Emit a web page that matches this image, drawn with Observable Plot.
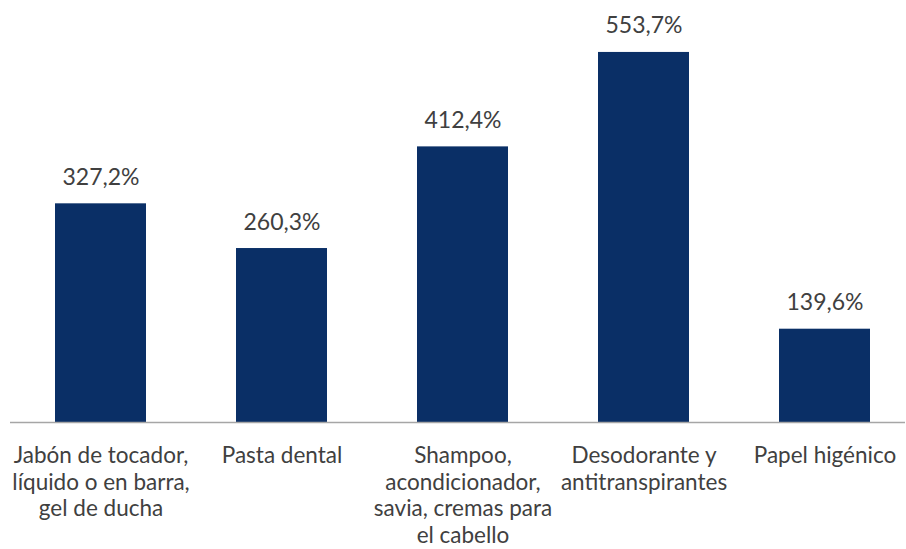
<!DOCTYPE html>
<html>
<head>
<meta charset="utf-8">
<script src="https://cdn.jsdelivr.net/npm/d3@7"></script>
<script src="https://cdn.jsdelivr.net/npm/@observablehq/plot@0.6"></script>
<style>
  html, body { margin: 0; padding: 0; background: #fff; }
  #chart svg { display: block; }
</style>
</head>
<body>
<div id="chart"></div>
<script>
const categories = [
  "Jabón de tocador,\nlíquido o en barra,\ngel de ducha",
  "Pasta dental",
  "Shampoo,\nacondicionador,\nsavia, cremas para\nel cabello",
  "Desodorante y\nantitranspirantes",
  "Papel higénico"
];
const values = [327.2, 260.3, 412.4, 553.7, 139.6];
const valueLabels = ["327,2%", "260,3%", "412,4%", "553,7%", "139,6%"];

const data = categories.map((c, i) => ({cat: c, value: values[i], label: valueLabels[i]}));

const font = "Lato, 'Noto Sans', sans-serif";
const chart = Plot.plot({
  width: 906,
  height: 549,
  marginLeft: 10,
  marginRight: 1,
  marginTop: 21,
  marginBottom: 127,
  style: {fontFamily: font, background: "#fff"},
  x: {domain: categories, range: [10, 915], paddingInner: 0.5, paddingOuter: 0.25, axis: null},
  y: {domain: [0, 600], axis: null},
  marks: [
    Plot.barY(data, {x: "cat", y: "value", fill: "#0a2f66"}),
    Plot.ruleY([0], {stroke: "#a6a6a6", strokeWidth: 1.3}),
    Plot.text(data, {x: "cat", y: "value", text: "label", lineAnchor: "bottom", dy: -19, fontSize: 23, fill: "#404040"}),
    Plot.text(data, {x: "cat", y: () => 0, text: "cat", lineAnchor: "top", dy: 22, fontSize: 22.5, lineHeight: 1.18, fill: "#404040"})
  ]
});
document.getElementById("chart").appendChild(chart);
</script>
</body>
</html>
